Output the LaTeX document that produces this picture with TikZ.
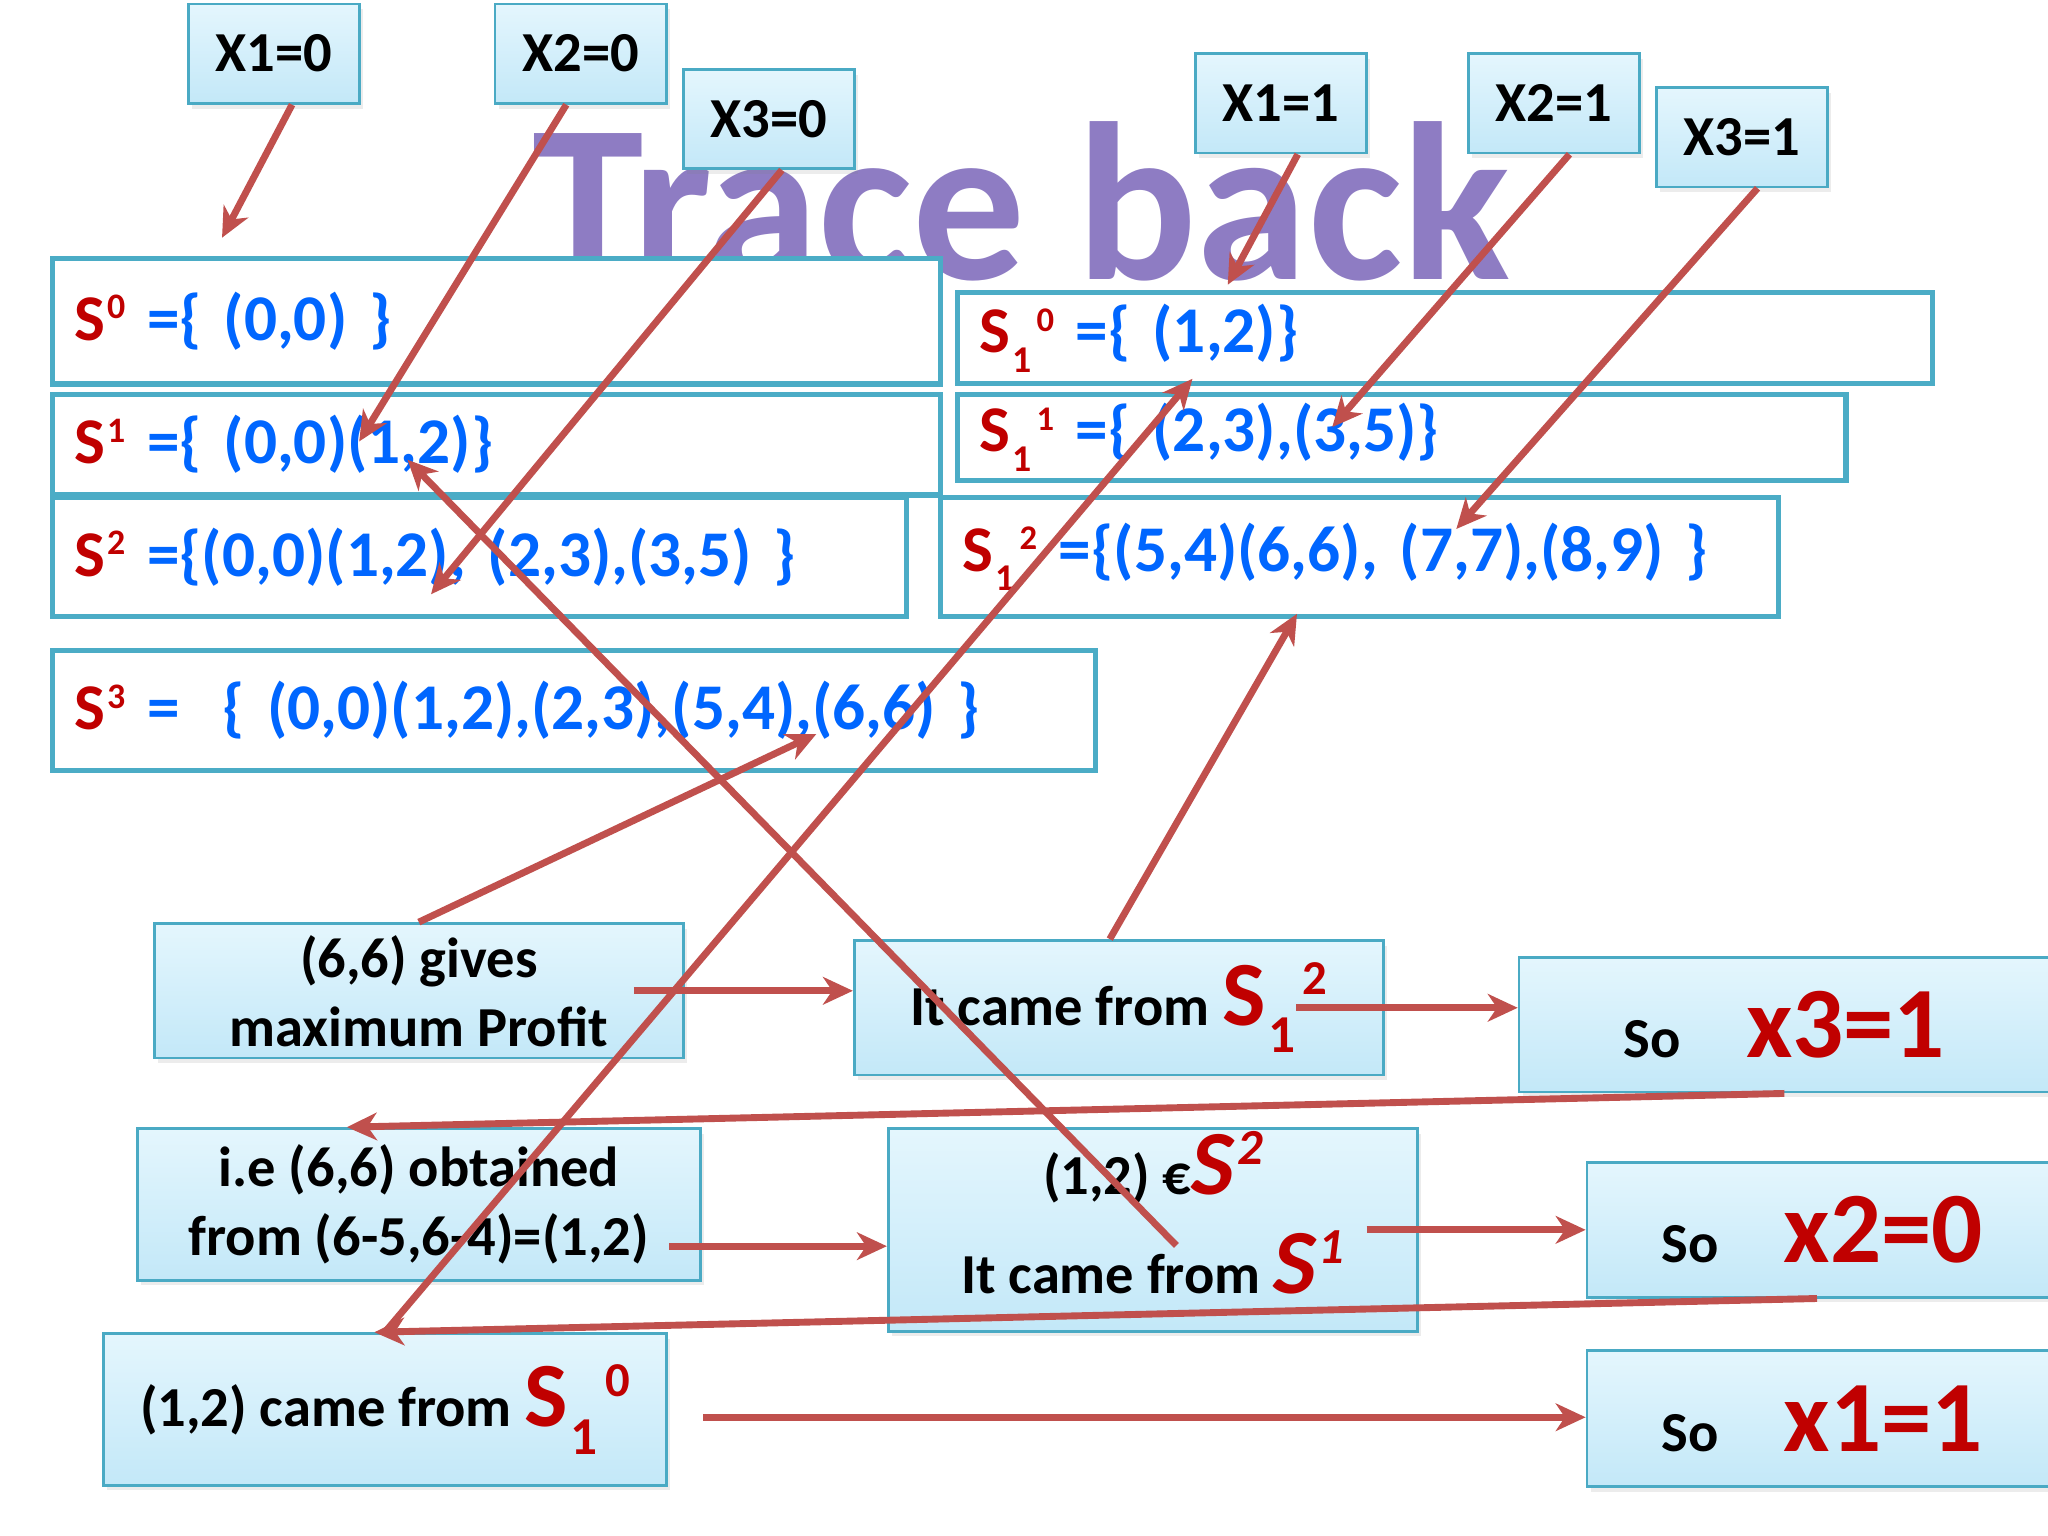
\documentclass[tikz,border=0pt]{standalone}
\usepackage{fontspec}
\setmainfont{Carlito}
\usetikzlibrary{arrows.meta,shadows}

\definecolor{setline}{HTML}{4BACC6}
\definecolor{boxline}{HTML}{4AAAC4}
\definecolor{boxtop}{HTML}{E4F6FD}
\definecolor{boxbot}{HTML}{C3E8F8}
\definecolor{arrowred}{HTML}{C0504D}
\definecolor{setred}{HTML}{C00000}
\definecolor{setblue}{HTML}{0066FF}
\definecolor{titlepurple}{HTML}{8E7CC3}

% S with a superscript, S with sub- and superscript
\newcommand{\Ssup}[1]{S\kern0.03em\raisebox{0.33em}{\scalebox{0.55}{#1}}}
\newcommand{\Ssub}[2]{S\kern0.03em\raisebox{-0.3em}{\scalebox{0.58}{#1}}\kern0.08em\raisebox{0.33em}{\scalebox{0.53}{#2}}}

\tikzset{
  title/.style={text=titlepurple, font=\fontsize{49}{55}\selectfont\bfseries, anchor=base, inner sep=0pt},
  setbox/.style={draw=setline, line width=1.1pt, fill=white, anchor=north west,
    inner xsep=0.17cm, inner ysep=0pt, align=left, font=\fontsize{14.2}{17}\selectfont\bfseries},
  xbox/.style={draw=boxline, line width=0.6pt, top color=boxtop, bottom color=boxbot,
    drop shadow={opacity=0.15,shadow xshift=0.03cm,shadow yshift=-0.04cm},
    anchor=north west, minimum width=1.31cm, minimum height=0.76cm, inner sep=0pt,
    font=\fontsize{12.3}{15}\selectfont\bfseries},
  notebox/.style={draw=boxline, line width=0.6pt, top color=boxtop, bottom color=boxbot,
    drop shadow={opacity=0.15,shadow xshift=0.03cm,shadow yshift=-0.04cm},
    anchor=north west, inner sep=0pt, align=center, font=\fontsize{12.3}{15}\selectfont\bfseries},
  arr/.style={draw=arrowred, line width=1.5pt, -{Stealth[length=6.5pt,width=6pt,inset=2pt]}},
}

\begin{document}
\begin{tikzpicture}[x=0.01cm,y=-0.01cm]
\fill[white] (0,0) rectangle (1568,1176);
\useasboundingbox (0,0) rectangle (1568,1176);

\node[title] (trace) at (782,214) {Trace back};

% sets S^i
\node[setbox, text width=6.46cm, minimum height=0.96cm] (s0) at (38,196) {\textcolor{setred}{\Ssup{0}} \textcolor{setblue}{=\{ (0,0) \}}};
\node[setbox, text width=6.46cm, minimum height=0.77cm] (s1) at (38,300) {\textcolor{setred}{\Ssup{1}} \textcolor{setblue}{=\{ (0,0)(1,2)\}}};
\node[setbox, text width=6.20cm, minimum height=0.91cm] (s2) at (38,379) {\textcolor{setred}{\Ssup{2}} \textcolor{setblue}{=\{(0,0)(1,2), (2,3),(3,5) \}}};
\node[setbox, text width=7.64cm, minimum height=0.92cm] (s3) at (38,496) {\textcolor{setred}{\Ssup{3}} \textcolor{setblue}{=~~\{ (0,0)(1,2),(2,3),(5,4),(6,6) \}}};
% sets S_1^i
\node[setbox, text width=7.12cm, minimum height=0.70cm] (s10) at (731,222) {\textcolor{setred}{\Ssub{1}{0}} \textcolor{setblue}{=\{ (1,2)\}}};
\node[setbox, text width=6.46cm, minimum height=0.66cm] (s11) at (731,300) {\textcolor{setred}{\Ssub{1}{1}} \textcolor{setblue}{=\{ (2,3),(3,5)\}}};
\node[setbox, text width=6.07cm, minimum height=0.91cm] (s12) at (718,379) {\textcolor{setred}{\Ssub{1}{2}} \textcolor{setblue}{=\{(5,4)(6,6), (7,7),(8,9) \}}};

% choices
\node[xbox] (x10) at (143,2) {X1=0};
\node[xbox] (x20) at (378,2) {X2=0};
\node[xbox] (x30) at (522,52) {X3=0};
\node[xbox] (x11) at (914,40) {X1=1};
\node[xbox] (x21) at (1123,40) {X2=1};
\node[xbox] (x31) at (1267,66) {X3=1};

% trace steps
\node[notebox, minimum width=4.05cm, minimum height=1.03cm] (gives) at (117,706) {(6,6) gives\\maximum Profit};
\node[notebox, minimum width=4.05cm, minimum height=1.03cm] (came2) at (653,719) {It came from {\color{setred}\fontsize{20}{24}\selectfont\Ssub{1}{2}}};
\node[notebox, minimum width=4.06cm, minimum height=1.03cm] (so3) at (1162,732) {So\hspace{0.5cm}{\color{setred}\fontsize{22}{26}\selectfont x3=1}};
\node[notebox, minimum width=4.31cm, minimum height=1.16cm] (obtained) at (104,863) {i.e (6,6) obtained\\from (6-5,6-4)=(1,2)};
\node[notebox, minimum width=4.05cm, minimum height=1.55cm] (elem) at (679,863) {(1,2) €{\color{setred}\fontsize{20}{24}\selectfont\itshape\Ssup{2}}\\[5pt]It came from {\color{setred}\fontsize{20}{24}\selectfont\itshape\Ssup{1}}\rule[-7.5pt]{0pt}{7.5pt}};
\node[notebox, minimum width=3.6cm, minimum height=1.03cm] (so2) at (1214,889) {So\hspace{0.5cm}{\color{setred}\fontsize{22}{26}\selectfont x2=0}};
\node[notebox, minimum width=4.31cm, minimum height=1.16cm] (came0) at (78,1020) {(1,2) came from {\color{setred}\fontsize{20}{24}\selectfont\Ssub{1}{0}}};
\node[notebox, minimum width=3.6cm, minimum height=1.04cm] (so1) at (1214,1033) {So\hspace{0.5cm}{\color{setred}\fontsize{22}{26}\selectfont x1=1}};

% arrow heads inside the sets
\coordinate (hs0) at (170,182);
\coordinate (hs1) at (275,338);
\coordinate (hs2) at (330,455);
\coordinate (hs10) at (940,218);
\coordinate (hs11) at (1020,327);
\coordinate (hs12) at (1115,405);
\coordinate (hs3) at (625,562);
\coordinate (hs12b) at (993,470);
\coordinate (hs1b) at (312,352);
\coordinate (hs10b) at (913,290);
\coordinate (ob) at ([xshift=-0.25cm,yshift=-0.32cm]obtained.east);
\coordinate (cf) at ([xshift=0.27cm,yshift=-0.06cm]came0.east);

\draw[arr] ([xshift=0.14cm]x10.south) -- (hs0);
\draw[arr] ([xshift=-0.11cm]x20.south) -- (hs1);
\draw[arr] ([xshift=0.1cm]x30.south) -- (hs2);
\draw[arr] ([xshift=0.13cm]x11.south) -- (hs10);
\draw[arr] ([xshift=0.12cm]x21.south) -- (hs11);
\draw[arr] ([xshift=0.12cm]x31.south) -- (hs12);
\draw[arr] (gives.north) -- (hs3);
\draw[arr] ([xshift=-0.39cm]gives.east) -- (gives.east -| came2.west);
\draw[arr] ([xshift=-0.07cm]came2.north) -- (hs12b);
\draw[arr] ([xshift=-0.68cm]came2.east) -- (came2.east -| so3.west);
\draw[arr] (so3.south) -- ([xshift=-0.55cm]obtained.north);
\draw[arr] (ob) -- (ob -| elem.west);
\draw[arr] ([xshift=0.18cm,yshift=-0.12cm]elem.center) -- (hs1b);
\draw[arr] ([xshift=-0.4cm]elem.east) -- (elem.east -| so2.west);
\draw[arr] ([xshift=-0.04cm]so2.south) -- ([xshift=-0.08cm]came0.north);
\draw[arr] (came0.north) -- (hs10b);
\draw[arr] (cf) -- (cf -| so1.west);

\end{tikzpicture}
\end{document}
